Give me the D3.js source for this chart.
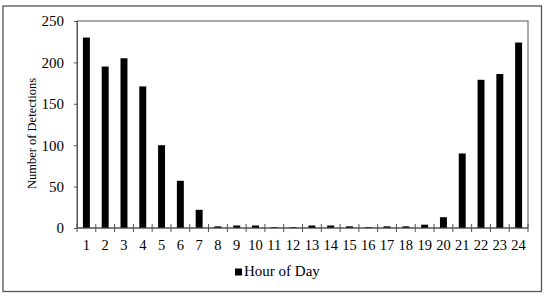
<!DOCTYPE html>
<html><head><meta charset="utf-8">
<script src="https://cdn.jsdelivr.net/npm/d3@7"></script>
<style>body{margin:0;background:#fff}svg{display:block}</style>
</head><body>
<svg id="c" width="550" height="299"></svg>
<script>
const hours = ["1","2","3","4","5","6","7","8","9","10","11","12","13","14","15","16","17","18","19","20","21","22","23","24"];
const detections = [230,195,205,171,100,57,22,2,3,3,1,1,3,3,2,1,2,2,4,13,90,179,186,224];
const yTicks = [0,50,100,150,200,250];
const seriesName = "Hour of Day";
const yTitle = "Number of Detections";

const SERIF = "Liberation Serif";
const svg = d3.select("#c");
const m = {l:77, t:21, r:528, b:228};

svg.append("rect").attr("x",3).attr("y",6).attr("width",538.5).attr("height",285.5)
  .attr("fill","none").attr("stroke","#555").attr("stroke-width",1.3);

const x = d3.scaleBand().domain(hours).range([m.l,m.r]).paddingInner(0.63).paddingOuter(0.315);
const y = d3.scaleLinear().domain([0,250]).range([m.b,m.t]);

svg.append("rect").attr("x",m.l).attr("y",m.t).attr("width",m.r-m.l).attr("height",m.b-m.t)
  .attr("fill","none").attr("stroke","#555").attr("stroke-width",1);

svg.selectAll(".bar").data(detections).join("rect")
  .attr("x",(d,i)=>x(hours[i])).attr("width",x.bandwidth())
  .attr("y",d=>y(d)).attr("height",d=>y(0)-y(d)).attr("fill","#000");

// y axis
const ya = svg.append("g").attr("transform",`translate(${m.l},0)`)
  .call(d3.axisLeft(y).tickValues(yTicks).tickSize(3).tickPadding(10));
ya.attr("font-family",SERIF).attr("font-size",15);
ya.select(".domain").attr("stroke","#555");
ya.selectAll("line").attr("stroke","#555");
ya.selectAll("text").style("font-family",SERIF).style("font-size","15px").attr("fill","#000");

// x axis: ticks at band boundaries crossing the axis
const step = x.step();
const xa = svg.append("g").attr("transform",`translate(0,${m.b})`);
xa.append("line").attr("x1",m.l).attr("x2",m.r).attr("stroke","#555");
const bounds = d3.range(hours.length+1).map(i=>m.l+i*step);
xa.selectAll(".tk").data(bounds).join("line")
  .attr("x1",d=>d).attr("x2",d=>d).attr("y1",-4).attr("y2",4).attr("stroke","#555");
xa.selectAll(".lb").data(hours).join("text")
  .attr("x",d=>x(d)+x.bandwidth()/2).attr("y",22).attr("text-anchor","middle")
  .style("font-family",SERIF).style("font-size","14.5px").text(d=>d);

// y title
svg.append("text").attr("transform","translate(36,133.5) rotate(-90)")
  .attr("text-anchor","middle").style("font-family",SERIF).style("font-size","12.5px").text(yTitle);

// legend
svg.append("rect").attr("x",235).attr("y",268.5).attr("width",7).attr("height",7).attr("fill","#000");
svg.append("text").attr("x",244).attr("y",276).style("font-family",SERIF).style("font-size","15px").text(seriesName);
</script>
</body></html>
